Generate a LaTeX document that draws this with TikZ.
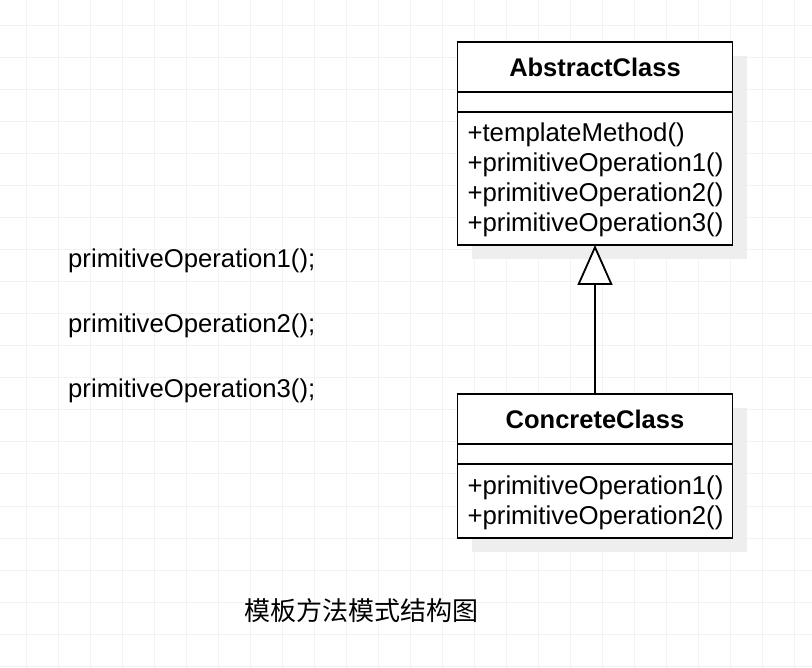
\documentclass[tikz,border=0pt]{standalone}
\usepackage{fontspec}
\setmainfont{Liberation Sans}
\newfontfamily\cjkfont{Noto Sans CJK SC}
\usetikzlibrary{positioning}
\usetikzlibrary{arrows.meta}
\usetikzlibrary{shadows}
\definecolor{gridgray}{HTML}{F2F2F2}
\definecolor{shadowgray}{HTML}{EEEEEE}

\begin{document}
\begin{tikzpicture}[x=1pt,y=-1pt,
    gridline/.style={gridgray,line width=1pt},
    classpart/.style={draw,line width=1.8pt,fill=white,outer sep=0pt,
      minimum width=275pt,text width=255pt,inner xsep=10pt,inner ysep=0pt,
      align=left,font=\fontsize{25.8}{30}\selectfont,
      drop shadow={shadow xshift=14pt,shadow yshift=-14pt,fill=shadowgray,opacity=1}},
    classname/.style={classpart,minimum height=50pt,align=center,
      font=\bfseries\fontsize{25.5}{30}\selectfont},
    optext/.style={inner sep=0pt,text height=18pt,text depth=6pt,
      font=\fontsize{25.7}{30}\selectfont},
    inherit/.style={line width=1.8pt,-{Triangle[length=40pt,width=35pt,fill=white]}}]
    \useasboundingbox (0,0) rectangle (812,668);
    \fill[white] (0,0) rectangle (812,668);
    \foreach \gx in {26,58,...,794}
      \draw[gridline] (\gx,0) -- (\gx,668);
    \foreach \gy in {26,58,...,666}
      \draw[gridline] (0,\gy) -- (812,\gy);

    \node[classname] (abs) at (595,67) {AbstractClass};
    \node[classpart,minimum height=20pt,below=0pt of abs] (absattr) {};
    \node[classpart,minimum height=133pt,below=0pt of absattr] (absops)
      {\rule{0pt}{22pt}+templateMethod()\\+primitiveOperation1()\\+primitiveOperation2()\\+primitiveOperation3()};

    \node[classname,below=149pt of absops] (con) {ConcreteClass};
    \node[classpart,minimum height=20pt,below=0pt of con] (conattr) {};
    \node[classpart,minimum height=74pt,below=0pt of conattr] (conops)
      {\rule{0pt}{22pt}+primitiveOperation1()\\+primitiveOperation2()};

    \draw[inherit] (con) -- (absops);

    \node[optext,anchor=base west] (op1) at (68,268) {primitiveOperation1();};
    \node[optext,below right=40.5pt and 0pt of op1.south west] (op2) {primitiveOperation2();};
    \node[optext,below right=40.5pt and 0pt of op2.south west] (op3) {primitiveOperation3();};

    \node[font=\cjkfont\fontsize{26}{30}\selectfont] (title) at (361,611) {模板方法模式结构图};
\end{tikzpicture}
\end{document}
